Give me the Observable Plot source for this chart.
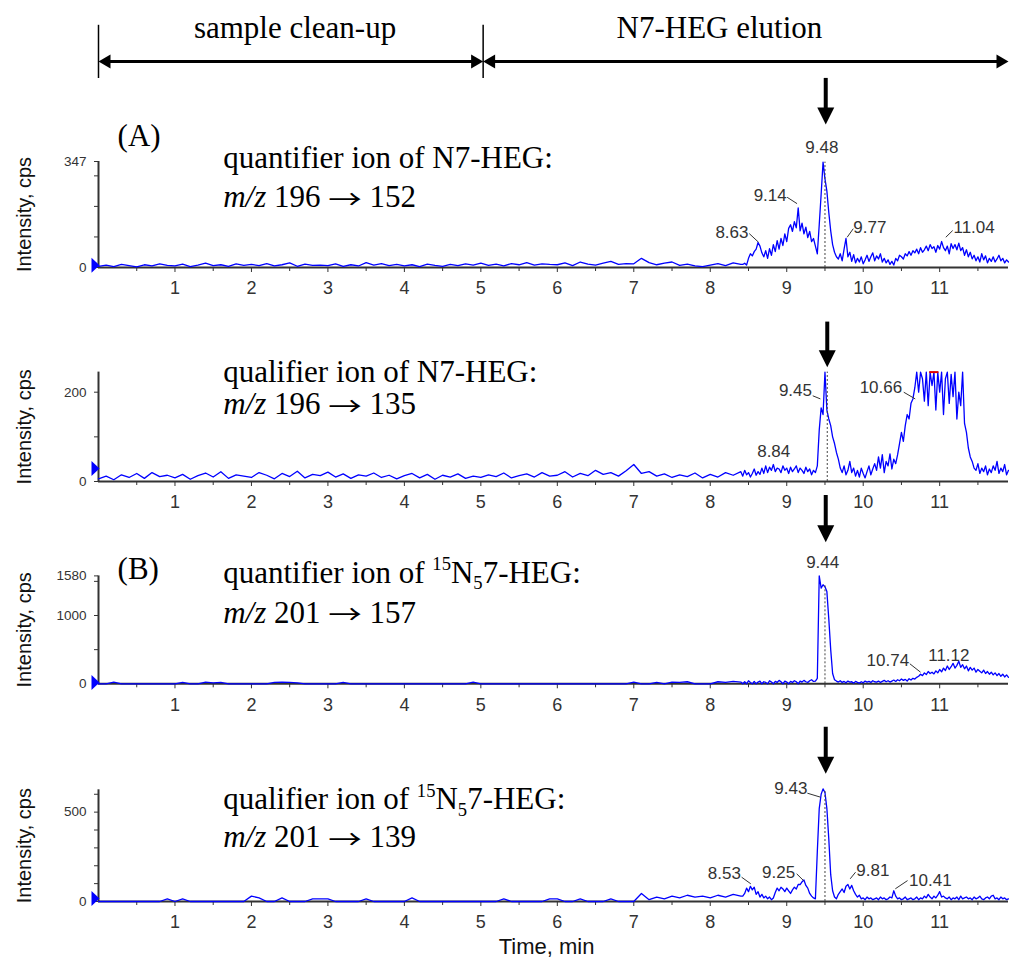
<!DOCTYPE html>
<html><head><meta charset="utf-8">
<script src="https://cdn.jsdelivr.net/npm/d3@7"></script>
<script src="https://cdn.jsdelivr.net/npm/@observablehq/plot@0.6"></script>
<style>
html,body{margin:0;padding:0;background:#fff;}
#chart{position:relative;width:1009px;height:959px;overflow:hidden;background:#fff;}
#chart > div{position:absolute;left:0;width:1009px;}
</style></head>
<body><div id="chart"></div>
<script>
// ---------------- data ----------------
const timeTicks = [1,2,3,4,5,6,7,8,9,10,11];
const halfTicks = [0.5,1.5,2.5,3.5,4.5,5.5,6.5,7.5,8.5,9.5,10.5,11.5];

const phaseLabels = ["sample clean-up", "N7-HEG elution"];
const phaseStart = [0, 5.03];
const phaseEnd = [5.03, 11.9];
const phaseLabelAt = [2.57, 8.12];

// sampling: base segment every 0.1 min from 0 to 8.4, peak segment every 0.025 min from 8.425 to 11.9
const p1Base = [4,8,3,10,6,2,9,5,12,7, 5,11,3,8,14,6,9,4,12,7, 10,6,13,5,9,15,4,11,7,8, 6,12,4,9,5,16,8,13,6,10,
 5,9,3,11,7,4,10,6,12,8, 14,7,11,5,13,9,16,8,12,10, 9,15,6,18,11,8,14,20,10,13, 12,30,16,9,14,18,7,11,5,3, 8,13,6,15,10];
const p1Peak = [10,14,8,30,45,38,52,60,82,70, 48,35,55,30,62,40,75,52,88,60, 95,72,110,85,128,140,118,150,130,195,
 120,145,110,132,98,118,85,95,70,45, 140,240,345,290,250,180,120,75,50,35, 28,45,22,60,95,35,50,20,42,15,
 30,18,35,12,25,40,20,35,48,22, 38,28,45,18,30,15,25,10,20,8, 30,22,40,35,28,45,38,52,40,55,
 48,60,45,65,50,58,70,55,75,62, 68,50,72,60,85,65,55,70,45,78, 62,75,58,80,55,65,40,58,35,50,
 28,40,22,35,18,45,25,38,15,30, 20,35,18,28,40,22,30,15,25,18];

const p2Base = [6,12,4,15,9,18,7,20,11,14, 8,16,5,13,19,10,22,7,15,12, 9,20,14,6,18,11,23,8,16,13, 21,10,17,7,15,12,19,9,14,6,
 13,18,8,16,5,14,10,17,7,12, 9,15,11,19,8,13,17,10,20,12, 14,22,10,18,13,25,16,20,12,24, 38,18,22,12,17,9,15,11,19,8, 16,10,20,14,22];
const p2Peak = [12,25,15,20,10,18,28,14,22,16, 30,18,35,20,32,25,38,22,30,28, 20,35,25,30,18,32,22,28,35,20,
 30,25,18,32,22,28,15,25,20,35, 115,165,150,245,160,140,125,100,85,65, 50,30,20,35,15,25,45,20,30,12,
 25,10,30,18,8,22,35,15,28,40, 25,55,30,60,20,45,35,62,28,50, 40,60,85,110,90,125,150,140,175,185,
 210,245,200,245,230,180,245,170,245,215, 245,160,245,200,245,150,230,245,175,240, 190,245,140,200,170,245,130,110,75,55,
 45,30,25,40,18,30,22,35,15,28, 20,35,25,45,18,30,22,38,15,25];

const p3Base = [0,0,25,0,0,0,0,0,0,0, 0,20,0,0,25,15,20,0,0,0, 0,0,0,20,25,20,15,0,0,0, 0,0,20,0,0,0,0,0,0,0,
 0,0,0,0,0,0,0,0,0,25, 0,0,0,0,0,0,0,0,0,0, 0,0,0,0,0,0,0,0,0,0, 25,0,0,20,0,25,20,30,0,0, 0,30,20,35,25];
const p3Peak = [0,30,0,45,20,0,35,0,25,40, 0,30,20,0,45,25,0,35,20,50, 30,0,40,25,0,35,20,45,30,0,
 40,25,50,30,20,45,60,35,40,80, 1580,1400,1450,1420,1350,950,500,150,60,40, 25,45,20,35,15,40,25,30,10,35,
 20,10,30,15,40,25,35,20,45,30, 25,40,20,35,50,30,45,25,40,55, 35,60,45,70,50,65,40,75,55,80,
 70,95,110,140,120,160,135,180,150,170, 145,190,160,210,175,230,195,260,210,250, 300,230,270,330,240,280,220,260,190,240,
 200,230,170,210,185,160,200,150,180,140, 170,130,160,120,150,110,140,100,130,95];

const p4Base = [0,0,0,0,0,0,0,0,0,15, 0,15,0,0,0,0,0,0,0,0, 30,20,0,0,20,0,0,0,15,15, 15,0,0,0,0,15,0,0,0,0,
 0,20,0,0,0,0,0,0,0,0, 0,0,0,15,0,0,0,0,0,15, 15,0,0,15,0,0,0,15,0,0, 0,45,10,25,15,30,20,35,25,30, 20,35,25,40,30];
const p4Peak = [30,45,75,55,85,65,80,40,55,25, 40,20,30,15,25,10,20,50,75,60, 80,70,55,75,60,45,65,80,70,95,
 95,110,120,90,75,45,30,20,15,280, 520,600,630,610,520,350,150,60,25,15, 40,55,70,50,85,95,70,90,60,40,
 25,35,15,20,10,25,15,20,10,15, 20,10,25,15,20,10,15,25,20,60, 30,15,20,10,15,25,10,15,20,10,
 15,25,10,20,15,30,20,40,25,15, 30,20,35,55,25,30,20,15,25,10, 20,15,25,10,30,15,20,25,15,20,
 10,25,15,20,30,15,10,20,25,15, 30,35,15,20,10,25,15,20,10,15];

// y-axis scales
const p1YMax = 347, p1YTicks = [0, 347], p1YMinor = [100, 200, 300];
const p2YMax = 245, p2YTicks = [0, 200], p2YMinor = [100];
const p3YMax = 1580, p3YTicks = [0, 1000, 1580], p3YMinor = [500, 1500];
const p4YMax = 625, p4YTicks = [0, 500], p4YMinor = [100, 200, 300, 400, 600];

// panel annotations (text and retention-time labels, in minutes / cps)
const p1Texts = [{text:"(A)", t:0.25, v:431}, {text:"quantifier ion of N7-HEG:", t:1.63, v:359}, {text:"*m/z* 196 → 152", t:1.63, v:231}];
const p2Texts = [{text:"qualifier ion of N7-HEG:", t:1.63, v:245}, {text:"*m/z* 196 → 135", t:1.63, v:173}];
const p3Texts = [{text:"(B)", t:0.25, v:1687}, {text:"quantifier ion of ^{15}N_{5}7-HEG:", t:1.63, v:1628}, {text:"*m/z* 201 → 157", t:1.63, v:1042}];
const p4Texts = [{text:"qualifier ion of ^{15}N_{5}7-HEG:", t:1.63, v:572}, {text:"*m/z* 201 → 139", t:1.63, v:358}];

const p1Labels = [{label:"9.48", t:9.46, v:393, anchor:"middle"}, {label:"9.14", t:9.0, v:236, anchor:"end"},
 {label:"8.63", t:8.5, v:116, anchor:"end"}, {label:"9.77", t:9.87, v:132, anchor:"start"}, {label:"11.04", t:11.18, v:132, anchor:"start"}];
const p1Leaders = [{t1:9.005,v1:230,t2:9.135,v2:209}, {t1:8.51,v1:111,t2:8.63,v2:83}, {t1:9.79,v1:99,t2:9.87,v2:127}, {t1:11.08,v1:99,t2:11.17,v2:121}];
const p2Labels = [{label:"9.45", t:9.33, v:204, anchor:"end"}, {label:"10.66", t:10.51, v:211, anchor:"end"}, {label:"8.84", t:8.83, v:66, anchor:"middle"}];
const p2Leaders = [{t1:9.34,v1:192,t2:9.44,v2:185}, {t1:10.53,v1:200,t2:10.68,v2:185}];
const p3Labels = [{label:"9.44", t:9.47, v:1780, anchor:"middle"}, {label:"10.74", t:10.6, v:341, anchor:"end"}, {label:"11.12", t:11.12, v:414, anchor:"middle"}];
const p3Leaders = [{t1:10.61,v1:293,t2:10.75,v2:170}];
const p4Labels = [{label:"9.43", t:9.27, v:631, anchor:"end"}, {label:"8.53", t:8.4, v:155, anchor:"end"}, {label:"9.25", t:9.11, v:164, anchor:"end"},
 {label:"9.81", t:9.91, v:173, anchor:"start"}, {label:"10.41", t:10.6, v:117, anchor:"start"}];
const p4Leaders = [{t1:9.27,v1:606,t2:9.44,v2:584}, {t1:8.41,v1:136,t2:8.53,v2:99}, {t1:9.13,v1:155,t2:9.22,v2:117}, {t1:9.83,v1:127,t2:9.9,v2:164}, {t1:10.42,v1:71,t2:10.58,v2:117}];

// marker arrows above the N7-HEG peak, dotted peak lines, baseline markers
const p1Arrow = [{t:9.51, from:619, to:468}], p1PeakLine = [{t:9.5, v:345}], p1Marker = [{t:0, v:7}];
const p2Arrow = [{t:9.53, from:357, to:256}], p2PeakLine = [{t:9.53, v:245}], p2Marker = [{t:0, v:29}];
const p3Arrow = [{t:9.51, from:2757, to:2073}], p3PeakLine = [{t:9.5, v:1450}], p3Marker = [{t:0, v:19}];
const p4Arrow = [{t:9.51, from:975, to:715}], p4PeakLine = [{t:9.5, v:620}], p4Marker = [{t:0, v:17}];
const p2Saturation = [{t1:10.87, t2:10.99, v:245}];
const timeAxisLabel = [{label: "Time, min", t: 5.86}];

// ---------------- drawing ----------------
const X_DOMAIN = [0, 11.9];
const serif = "'Liberation Serif','Times New Roman',serif";
const sans = "'Liberation Sans',Arial,sans-serif";
const SERIF_SIZE = 31;

const headDown = {draw(ctx){ctx.moveTo(0,0);ctx.lineTo(-8.5,-17);ctx.lineTo(8.5,-17);ctx.closePath();}};
const headLeft = {draw(ctx){ctx.moveTo(0,0);ctx.lineTo(12,-7);ctx.lineTo(12,7);ctx.closePath();}};
const headRight = {draw(ctx){ctx.moveTo(0,0);ctx.lineTo(-12,-7);ctx.lineTo(-12,7);ctx.closePath();}};
const baseMark = {draw(ctx){ctx.moveTo(4,0);ctx.lineTo(-4,-7.5);ctx.lineTo(-4,7.5);ctx.closePath();}};

function series(base, peak) {
  return base.map((v, i) => ({t: i * 0.1, v}))
    .concat(peak.map((v, i) => ({t: 8.4 + (i + 1) * 0.025, v})));
}

function richify(svg, size) {
  const NS = "http://www.w3.org/2000/svg";
  svg.querySelectorAll("text").forEach(el => {
    const s = el.textContent;
    if (!/\^\{|_\{|\*|→/.test(s)) return;
    while (el.firstChild) el.removeChild(el.firstChild);
    const re = /\^\{([^}]*)\}|_\{([^}]*)\}|\*([^*]*)\*|(→)|([^\^_*→]+)/g;
    let m, shift = 0;
    const small = size * 0.6;
    while ((m = re.exec(s))) {
      const ts = document.createElementNS(NS, "tspan");
      let want = 0;
      if (m[1] !== undefined) { ts.textContent = m[1]; ts.setAttribute("font-size", small); want = -size * 0.4; }
      else if (m[2] !== undefined) { ts.textContent = m[2]; ts.setAttribute("font-size", small); want = size * 0.22; }
      else if (m[3] !== undefined) { ts.textContent = m[3]; ts.setAttribute("font-style", "italic"); }
      else if (m[4] !== undefined) {
        ts.textContent = m[4];
        ts.setAttribute("font-family", "'Noto Sans CJK JP','Noto Sans CJK SC',sans-serif");
        ts.setAttribute("font-size", size * 0.84);
        ts.setAttribute("textLength", size * 1.08);
        ts.setAttribute("lengthAdjust", "spacingAndGlyphs");
        want = size * 0.06;
      }
      else { ts.textContent = m[5]; }
      const d = want - shift;
      if (d) ts.setAttribute("dy", d);
      shift = want;
      el.appendChild(ts);
    }
  });
}

function panelPlot(c) {
  const data = series(c.base, c.peak);
  const labelMarks = ["start", "middle", "end"].map(a =>
    Plot.text(c.labels.filter(d => d.anchor === a), {x: "t", y: "v", text: "label", textAnchor: a, lineAnchor: "middle", fontSize: 17, fill: "#333"}));
  const marks = [
    Plot.ruleY([0], {stroke: "#333", strokeWidth: 2}),
    Plot.ruleX([0], {x: d => d, y1: () => 0, y2: () => c.ymax, stroke: "#333", strokeWidth: 2}),
    Plot.axisX({ticks: halfTicks, tickSize: 4, tickFormat: () => "", label: null, stroke: "#333"}),
    Plot.axisX({ticks: timeTicks, tickSize: 5, tickPadding: 9, fontSize: 18, tickFormat: "d", label: null, stroke: "#333", fill: "#333"}),
    Plot.axisY({ticks: c.yMinor, tickSize: 4, tickFormat: () => "", label: null, stroke: "#333"}),
    Plot.axisY({ticks: c.yTicks, tickSize: 4, tickPadding: 8, fontSize: 13.5, tickFormat: "d", label: null, stroke: "#333", fill: "#333"}),
    Plot.line(data, {x: "t", y: "v", stroke: "#0000ff", strokeWidth: 1.3}),
    Plot.ruleX(c.peakLine, {x: "t", y1: () => 0, y2: "v", stroke: "#444", strokeDasharray: "2,2", strokeWidth: 1}),
    Plot.dot(c.marker, {x: "t", y: "v", symbol: baseMark, fill: "#0000ff", stroke: "none", dx: -3}),
    Plot.link(c.leaders, {x1: "t1", y1: "v1", x2: "t2", y2: "v2", stroke: "#333", strokeWidth: 1}),
    ...labelMarks,
    Plot.ruleX(c.arrow, {x: "t", y1: "from", y2: "to", stroke: "#000", strokeWidth: 4, insetBottom: 10}),
    Plot.dot(c.arrow, {x: "t", y: "to", symbol: headDown, fill: "#000", stroke: "none"}),
    Plot.text(c.texts, {x: "t", y: "v", text: "text", textAnchor: "start", lineAnchor: "middle", fontFamily: serif, fontSize: SERIF_SIZE, fill: "#000"}),
    Plot.text(["Intensity, cps"], {text: d => d, frameAnchor: "left", rotate: -90, dx: -74, textAnchor: "middle", lineAnchor: "middle", fontSize: 20, fill: "#111"})
  ];
  if (c.extra) marks.push(...c.extra);
  const svg = Plot.plot({
    width: 1009, height: c.height, marginLeft: 98, marginRight: 1, marginTop: c.mt, marginBottom: c.mb,
    x: {domain: X_DOMAIN}, y: {domain: [0, c.ymax]},
    style: {overflow: "visible", fontFamily: sans, background: "transparent"},
    marks
  });
  richify(svg, SERIF_SIZE);
  return svg;
}

const phaseRows = phaseLabels.map((label, i) => ({label, start: phaseStart[i], end: phaseEnd[i], labelAt: phaseLabelAt[i]}));
const header = Plot.plot({
  width: 1009, height: 80, marginLeft: 98, marginRight: 1, marginTop: 0, marginBottom: 0,
  x: {domain: X_DOMAIN, axis: null}, y: {domain: [0, 1], axis: null},
  style: {overflow: "visible", fontFamily: serif, background: "transparent"},
  marks: [
    Plot.ruleX(phaseStart, {x: d => d, y1: () => 0.025, y2: () => 0.69, stroke: "#000", strokeWidth: 1.5}),
    Plot.ruleY(phaseRows, {x1: "start", x2: "end", y: () => 0.2375, stroke: "#000", strokeWidth: 3, insetLeft: 8, insetRight: 8}),
    Plot.dot(phaseRows, {x: "start", y: () => 0.2375, symbol: headLeft, fill: "#000", stroke: "none"}),
    Plot.dot(phaseRows, {x: "end", y: () => 0.2375, symbol: headRight, fill: "#000", stroke: "none"}),
    Plot.text(phaseRows, {x: "labelAt", y: () => 0.657, text: "label", fontFamily: serif, fontSize: SERIF_SIZE, lineAnchor: "middle", fill: "#000"})
  ]
});

const panels = [
  {top: 70, height: 235, mt: 91, mb: 38, ymax: p1YMax, yTicks: p1YTicks, yMinor: p1YMinor, base: p1Base, peak: p1Peak,
   texts: p1Texts, labels: p1Labels, leaders: p1Leaders, arrow: p1Arrow, peakLine: p1PeakLine, marker: p1Marker},
  {top: 310, height: 210, mt: 61.6, mb: 39, ymax: p2YMax, yTicks: p2YTicks, yMinor: p2YMinor, base: p2Base, peak: p2Peak,
   texts: p2Texts, labels: p2Labels, leaders: p2Leaders, arrow: p2Arrow, peakLine: p2PeakLine, marker: p2Marker,
   extra: [Plot.ruleY(p2Saturation, {x1: "t1", x2: "t2", y: "v", stroke: "#e00000", strokeWidth: 2})]},
  {top: 485, height: 235, mt: 90.4, mb: 36.7, ymax: p3YMax, yTicks: p3YTicks, yMinor: p3YMinor, base: p3Base, peak: p3Peak,
   texts: p3Texts, labels: p3Labels, leaders: p3Leaders, arrow: p3Arrow, peakLine: p3PeakLine, marker: p3Marker},
  {top: 715, height: 244, mt: 74.3, mb: 58, ymax: p4YMax, yTicks: p4YTicks, yMinor: p4YMinor, base: p4Base, peak: p4Peak,
   texts: p4Texts, labels: p4Labels, leaders: p4Leaders, arrow: p4Arrow, peakLine: p4PeakLine, marker: p4Marker,
   extra: [Plot.text(timeAxisLabel, {x: "t", text: "label", frameAnchor: "bottom", dy: 45, fontSize: 22, fill: "#111", lineAnchor: "middle"})]}
];

const chart = document.getElementById("chart");
function place(svg, top) {
  const div = document.createElement("div");
  div.style.top = top + "px";
  div.appendChild(svg);
  chart.appendChild(div);
}
place(header, 0);
panels.forEach(c => place(panelPlot(c), c.top));
</script>
</body></html>
